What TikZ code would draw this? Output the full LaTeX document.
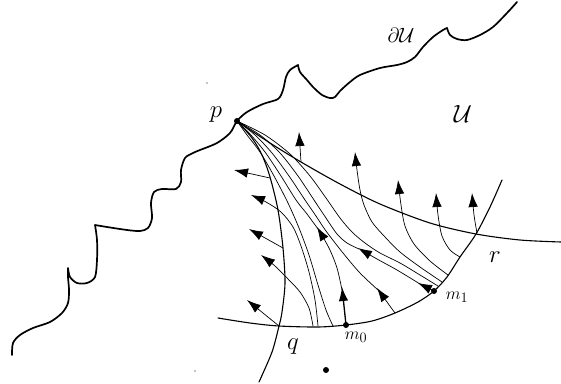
\documentclass[tikz,border=0pt]{standalone}
\usetikzlibrary{arrows.meta}
\begin{document}
\begin{tikzpicture}[x=1pt,y=-1pt,
  bd/.style={line width=1.7pt, line join=round, line cap=round},
  main/.style={line width=1.1pt, line cap=round},
  fl/.style={line width=0.7pt},
  tip/.style={-{Latex[length=14pt,width=9.5pt]}},
  dot/.style={circle, fill, inner sep=0pt, minimum size=6pt},
  speck/.style={circle, fill, inner sep=0pt, minimum size=1.2pt},
  lbl/.style={inner sep=0pt, font=\fontsize{24}{24}\selectfont},
  sml/.style={inner sep=0pt, font=\fontsize{19}{19}\selectfont}]
\useasboundingbox (0,0) rectangle (561,383);

% points
\coordinate (P) at (237,121);
\coordinate (M0) at (346,325);
\coordinate (M1) at (434,291);

% boundary of U
\draw[bd] plot[smooth] coordinates {(12,355)(13,343)(20,335)(33,328)(50,322)(62,313)(68,303)(69,290)(68,277)(68,268)}
 -- plot[smooth] coordinates {(68,268)(70,277)(77,283)(87,283)(95,277)(97,260)(97,240)(95,225)}
 -- plot[smooth] coordinates {(95,225)(107,227)(127,230)(140,231)(148,228)(152,218)(151,203)(154,192)(162,189)(176,189)(181,182)(181,170)(185,158)(193,153)(200,150)(217,143)(230,133)(237,121)(247,112)(263,104)(278,99)(283,90)(286,77)(290,70)(298,65)}
 -- plot[smooth] coordinates {(298,65)(300,72)(307,80)(313,87)(322,95)(330,98)(335,97)(340,91)(350,82)(360,75)(380,68)(397,65)(407,62)(415,57)(423,47)(433,37)(443,30)(447,28)}
 -- plot[smooth] coordinates {(447,28)(450,35)(457,39)(467,40)(480,35)(493,27)(507,13)(517,2)};

% main curves
\draw[main] plot[smooth] coordinates {(237,121)(252,138)(262,155)(270,177)(278,210)(283,248)(285,283)(282,312)(279,326)(272,352)(259,382)};
\draw[main] plot[smooth] coordinates {(218,318)(250,323)(279,326)(318,327)(346,325)(372,321)(395,313)(418,302)(434,291)(447,277)(460,257)(476,234)(490,207)(502,180)};
\draw[main] plot[smooth] coordinates {(237,121)(270,143)(301,162)(340,184)(380,204)(430,223)(476,234)(520,240)(561,242)};

% flow lines left of q
\draw[fl,tip] (270,178) -- (234,170);
\draw[fl,tip] plot[smooth] coordinates {(318,326)(315,300)(309,272)(301,246)(293,227)(281,212)(266,202)(251,195)};
\draw[fl,tip] (283,248) -- (249,229);
\draw[fl,tip] plot[smooth] coordinates {(313,326)(309,308)(300,292)(288,279)(275,266)(261,255)};
\draw[fl,tip] (279,326) -- (247,300);

% flow lines from p
\draw[fl] plot[smooth] coordinates {(237,121)(247,135)(260,152)(274,176)(288,203)(299,228)(309,255)(318,285)(326,310)(333,326)};
\draw[line width=1.3pt,-{Latex[length=14pt,width=9.5pt]}] (M0) -- (342,287);
\draw[fl,tip] plot[smooth] coordinates {(342,290)(337,268)(329,248)(317,227)};
\draw[fl] plot[smooth] coordinates {(318,229)(307,214)(296,200)(281,176)(265,152)(250,134)(237,121)};
\draw[fl,tip] plot[smooth] coordinates {(395,313)(387,302)(377,288)};
\draw[fl] plot[smooth] coordinates {(378,290)(360,273)(343,253)(326,231)(316,216)(305,200)(289,176)(272,153)(255,135)(237,121)};
\draw[fl,tip] (M1) -- (418,283);
\draw[fl,tip] plot[smooth] coordinates {(420,284)(397,270)(377,259)(358,248)};
\draw[fl] plot[smooth] coordinates {(359,249)(347,243)(337,234)(326,218)(314,200)(298,176)(280,153)(260,135)(237,121)};
\draw[fl] plot[smooth] coordinates {(237,121)(265,135)(290,154)(310,176)(326,198)(340,218)(352,232)(365,243)(380,253)(400,263)(420,275)(438,286)};

% flow lines crossing the top line
\draw[fl,tip] (301,162) -- (299,132);
\draw[fl,tip] plot[smooth] coordinates {(442,282)(420,267)(400,252)(385,237)(372,222)(364,205)(360,190)(357,170)(355,152)};
\draw[fl,tip] plot[smooth] coordinates {(448,275)(430,261)(414,244)(405,226)(401,205)(398,180)};
\draw[fl,tip] plot[smooth] coordinates {(460,257)(450,250)(442,236)(438,215)(436,193)};
\draw[fl,tip] plot[smooth] coordinates {(477,233)(474,215)(472,193)};

% dots
\node[dot] (p) at (P) {};
\node[dot] (m0) at (M0) {};
\node[dot] (m1) at (M1) {};
\node[dot] (d) at (326,370) {};
\node[speck] (s1) at (207,83) {};
\node[speck] (s2) at (195,371) {};

% labels
\node[lbl] (lp) at (216,115) {$p$};
\node[lbl] (lq) at (293,347) {$q$};
\node[lbl] (lr) at (495,257) {$r$};
\node[sml] (lm0) at (356,337) {$m_0$};
\node[sml] (lm1) at (457,297) {$m_1$};
\node[inner sep=0pt, font=\fontsize{20}{20}\selectfont] (ldu) at (401,35) {$\partial\mathcal{U}$};
\node[inner sep=0pt, font=\fontsize{32}{32}\selectfont] (lu) at (463,114) {$\mathcal{U}$};
\end{tikzpicture}
\end{document}
